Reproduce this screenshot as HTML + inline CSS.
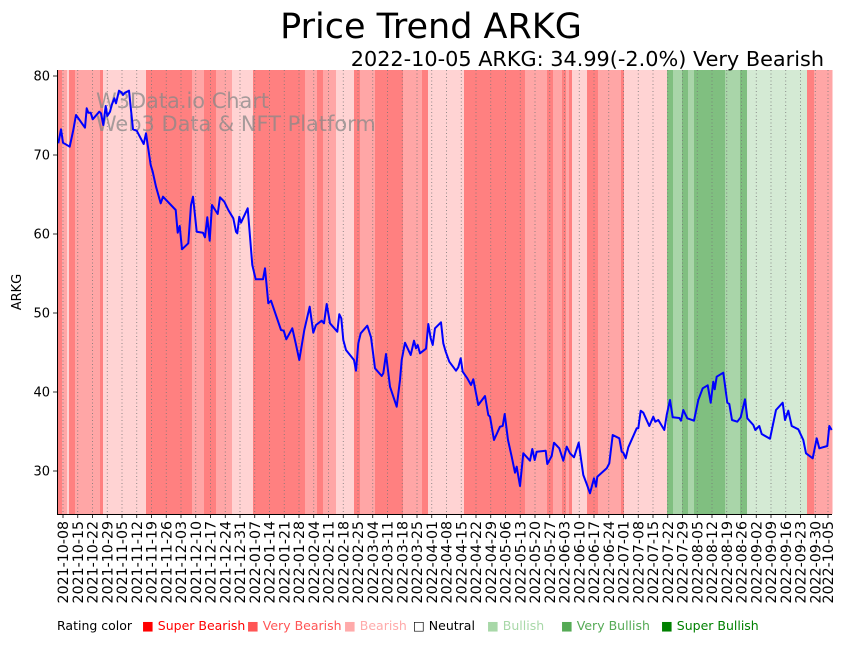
<!DOCTYPE html>
<html><head><meta charset="utf-8"><style>
body{margin:0;background:#fff;width:851px;height:641px;overflow:hidden;font-family:"Liberation Sans","DejaVu Sans",sans-serif}
</style></head><body>
<svg id="s" width="851" height="641" xmlns="http://www.w3.org/2000/svg" font-family="DejaVu Sans, Liberation Sans, sans-serif">
<g id="bands"></g>
<g id="grid"></g>
<text x="96" y="108" font-size="20.9" fill="#888" fill-opacity="0.75">W3Data.io Chart</text>
<text x="96" y="131" font-size="20.9" fill="#888" fill-opacity="0.75">Web3 Data &amp; NFT Platform</text>
<polyline id="line" fill="none" stroke="#0000ff" stroke-width="2" stroke-linejoin="round"/>
<line x1="57.5" y1="70" x2="57.5" y2="514" stroke="#000" stroke-width="1"/>
<line x1="57" y1="514.5" x2="832" y2="514.5" stroke="#000" stroke-width="1"/>
<g id="yt" font-size="13" text-anchor="end"></g>
<g id="xt" font-size="14.2"></g>
<text x="431" y="38" font-size="35" text-anchor="middle">Price Trend ARKG</text>
<text x="824" y="66" font-size="20.8" text-anchor="end">2022-10-05 ARKG: 34.99(-2.0%) Very Bearish</text>
<text transform="translate(21,292) rotate(-90)" font-size="13" text-anchor="middle">ARKG</text>
<g font-size="12.5">
<text x="57" y="630">Rating color</text>
<text x="142" y="630" fill="#ff0000">■ Super Bearish</text>
<text x="247" y="630" fill="#ff5555">■ Very Bearish</text>
<text x="344" y="630" fill="#ffaaaa">■ Bearish</text>
<text x="413" y="630" fill="#000">□ Neutral</text>
<text x="487" y="630" fill="#a8d8a8">■ Bullish</text>
<text x="561" y="630" fill="#55aa55">■ Very Bullish</text>
<text x="661" y="630" fill="#008000">■ Super Bullish</text>
</g>
</svg>
<script>
var NS="http://www.w3.org/2000/svg";
function el(t,a,p,txt){var e=document.createElementNS(NS,t);for(var k in a)e.setAttribute(k,a[k]);if(txt)e.textContent=txt;p.appendChild(e);return e;}
var C={D:"#ff8080",M:"#ffa6a6",L:"#ffd3d3",gD:"#80bf80",gM:"#a9d5a9",gL:"#d4ead4"};
var B=[[57,62,"D"],[62,67,"M"],[67,69,"L"],[69,75,"D"],[75,100,"M"],[100,103,"D"],[103,146,"L"],[146,192,"D"],[192,204,"M"],[204,216,"D"],[216,232,"M"],[232,253,"L"],[253,305,"D"],[305,317,"M"],[317,323,"D"],[323,336,"M"],[336,354,"L"],[354,360,"D"],[360,375,"M"],[375,403,"D"],[403,422,"M"],[422,428,"D"],[428,464,"L"],[464,525,"D"],[525,547,"M"],[547,553,"D"],[553,562,"M"],[562,566,"D"],[566,569,"M"],[569,572,"D"],[572,587,"L"],[587,598,"D"],[598,621,"M"],[621,624,"D"],[624,667,"L"],[667,673,"gD"],[673,682,"gM"],[682,688,"gD"],[688,694,"gM"],[694,725,"gD"],[725,740,"gM"],[740,747,"gD"],[747,807,"gL"],[807,814,"D"],[814,832,"M"]];
var bg=document.getElementById("bands");
B.forEach(function(b){el("rect",{x:b[0],y:70,width:b[1]-b[0]+0.5,height:444,fill:C[b[2]]},bg);});
var g=document.getElementById("grid"),xt=document.getElementById("xt");
var d0=Date.UTC(2021,9,8),xs=[],labs=[];
for(var k=0;k<52;k++){xs.push(63+k*14.75);labs.push(new Date(d0+k*7*864e5).toISOString().slice(0,10));}
xs.push(828);labs.push("2022-10-05");
xs.forEach(function(x,i){
 el("line",{x1:x,y1:70,x2:x,y2:514,stroke:"#777","stroke-width":0.8,"stroke-dasharray":"1,2.5"},g);
 el("line",{x1:x,y1:514,x2:x,y2:518,stroke:"#000","stroke-width":0.8},g);
 el("text",{transform:"translate("+(x+5)+",521) rotate(-90)","text-anchor":"end"},xt,labs[i]);
});
var yt=document.getElementById("yt");
[30,40,50,60,70,80].forEach(function(v){var y=471-(v-30)*7.9;
 el("line",{x1:53,y1:y,x2:57,y2:y,stroke:"#000","stroke-width":0.8},yt);
 el("text",{x:50,y:y+4.5},yt,String(v));});
var z7=[[10,190],[18,148],[24,188],[44,200],[55,150],[63,105],[90,143],[95,85],[100,98],[107,98],[113,118],[133,95],[138,100],[145,135],[152,78],[157,108],[165,95],[170,75],[178,55],[183,70],[192,32],[200,38],[204,45],[210,38],[222,32],[234,148],[245,152],[266,192],[273,160],[278,195],[287,255],[293,275],[303,320],[317,370],[324,350],[362,390],[368,458],[374,438],[381,508],[400,490],[408,375],[414,350],[425,455],[444,458],[450,472],[457,412],[464,482],[471,375],[488,402],[495,352],[508,365],[520,390],[535,415],[543,455],[547,460],[553,410],[558,428],[578,385],[592,555],[602,598],[624,598],[630,565],[640,670],[648,662],[678,750],[686,752],[694,778],[712,745],[722,790],[733,840],[748,750],[764,680]];
var z8=[[40,158],[48,135],[65,122],[72,130],[80,72],[90,130],[112,155],[118,103],[124,115],[130,180],[138,210],[162,240],[168,272],[175,190],[182,160],[202,137],[213,172],[225,265],[245,288],[250,280],[258,222],[270,320],[290,380],[300,300],[305,240],[315,188],[332,225],[342,182],[348,205],[353,195],[360,220],[378,206],[385,132],[392,175],[398,195],[405,145],[423,127],[430,190],[437,215],[448,245],[468,272],[475,262],[482,235],[488,275],[502,295],[513,315],[520,298],[528,340],[535,375],[555,348],[565,405],[570,410],[582,480],[600,440],[608,438],[614,402],[624,480],[635,530],[645,578],[650,560],[660,618],[670,520],[690,542],[697,507],[704,540],[710,515],[737,512],[742,552],[755,528],[762,488],[778,505],[790,542],[800,500]];
var z9=[[0,340],[12,352],[26,308],[40,405],[50,432],[60,460],[72,415],[78,440],[82,410],[110,385],[118,370],[128,285],[148,295],[155,335],[160,338],[167,355],[175,322],[200,265],[205,265],[212,212],[220,218],[238,258],[250,230],[256,245],[265,240],[283,270],[290,225],[300,180],[308,232],[328,234],[333,242],[340,210],[352,235],[372,242],[385,180],[398,145],[413,136],[422,188],[430,125],[434,148],[440,110],[460,98],[472,188],[478,192],[486,240],[502,245],[512,232],[525,178],[532,235],[550,255],[556,270],[568,258],[575,282],[600,296],[618,210],[638,188],[645,240],[655,212],[665,258],[685,268],[700,300],[708,340],[728,355],[740,295],[748,325],[772,318],[778,258],[785,270]];
var pts=[];
z7.forEach(function(p){pts.push((55+p[0]/3).toFixed(1)+","+(80+p[1]/3).toFixed(1));});
z8.forEach(function(p){pts.push((300+p[0]/3).toFixed(1)+","+(280+p[1]/3).toFixed(1));});
z9.forEach(function(p){pts.push((570+p[0]/3).toFixed(1)+","+(340+p[1]/3).toFixed(1));});
document.getElementById("line").setAttribute("points",pts.join(" "));
</script>
</body></html>
